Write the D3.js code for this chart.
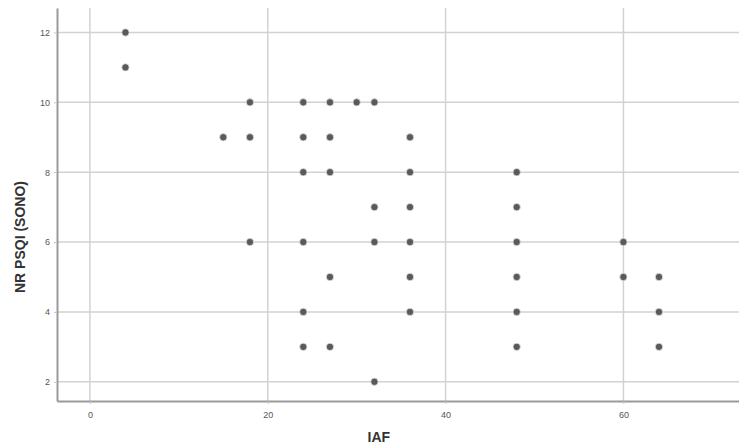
<!DOCTYPE html>
<html>
<head>
<meta charset="utf-8">
<script src="https://cdn.jsdelivr.net/npm/d3@7"></script>
<style>
  body { margin: 0; background: #fff; }
  svg { display: block; font-family: Arial, "Liberation Sans", sans-serif; }
</style>
</head>
<body>
<div id="chart"></div>
<script>
// IAF (x) and NR PSQI (SONO) (y)
const iaf  = [4, 4, 15, 18, 18, 18, 24, 24, 24, 24, 24, 24, 27, 27, 27, 27, 27, 30, 32, 32, 32, 32,
              36, 36, 36, 36, 36, 36, 48, 48, 48, 48, 48, 48, 60, 60, 64, 64, 64];
const psqi = [12, 11, 9, 10, 9, 6, 10, 9, 8, 6, 4, 3, 10, 9, 8, 5, 3, 10, 10, 7, 6, 2,
              9, 8, 7, 6, 5, 4, 8, 7, 6, 5, 4, 3, 6, 5, 5, 4, 3];
const xTicks = [0, 20, 40, 60];
const yTicks = [2, 4, 6, 8, 10, 12];

const width = 739, height = 448;
const margin = { top: 8, right: 0, bottom: 47, left: 57 };

const svg = d3.select("#chart").append("svg")
    .attr("width", width)
    .attr("height", height);

const x = d3.scaleLinear().domain([-3.7, 73]).range([margin.left, width - margin.right]);
const y = d3.scaleLinear().domain([1.45, 12.7]).range([height - margin.bottom, margin.top]);

// grid lines
svg.append("g")
    .selectAll("line")
    .data(yTicks)
    .enter().append("line")
    .attr("x1", margin.left).attr("x2", width - margin.right)
    .attr("y1", d => y(d)).attr("y2", d => y(d))
    .attr("stroke", "#d2d2d2").attr("stroke-width", 1.5);

svg.append("g")
    .selectAll("line")
    .data(xTicks)
    .enter().append("line")
    .attr("x1", d => x(d)).attr("x2", d => x(d))
    .attr("y1", margin.top).attr("y2", height - margin.bottom)
    .attr("stroke", "#d2d2d2").attr("stroke-width", 1.5);

// axes
const xAxis = svg.append("g")
    .attr("transform", `translate(0,${height - margin.bottom})`)
    .call(d3.axisBottom(x).tickValues(xTicks).tickSize(3).tickSizeOuter(0));
const yAxis = svg.append("g")
    .attr("transform", `translate(${margin.left},0)`)
    .call(d3.axisLeft(y).tickValues(yTicks).tickSize(3).tickSizeOuter(0));

[xAxis, yAxis].forEach(g => {
    g.select(".domain").attr("stroke", "#9a9a9a").attr("stroke-width", 2);
    g.selectAll(".tick line").attr("stroke", "#c4c4c4");
    g.selectAll(".tick text").attr("fill", "#555").attr("font-size", "9px");
});
xAxis.selectAll(".tick text").attr("dy", "1.2em");
yAxis.selectAll(".tick text").attr("x", -7);

// axis titles
svg.append("text")
    .attr("x", x(32.5))
    .attr("y", 442)
    .attr("text-anchor", "middle")
    .attr("font-size", "14px")
    .attr("font-weight", "bold")
    .attr("fill", "#333")
    .text("IAF");

svg.append("text")
    .attr("transform", `translate(25,237) rotate(-90)`)
    .attr("text-anchor", "middle")
    .attr("font-size", "14px")
    .attr("font-weight", "bold")
    .attr("fill", "#333")
    .text("NR PSQI (SONO)");

// points
svg.append("g")
    .selectAll("circle")
    .data(iaf.map((v, i) => ({ x: v, y: psqi[i] })))
    .enter().append("circle")
    .attr("cx", d => x(d.x))
    .attr("cy", d => y(d.y))
    .attr("r", 3.7)
    .attr("fill", "#5a5a5a")
    .attr("stroke", "#e6e6e6")
    .attr("stroke-width", 0.8);
</script>
</body>
</html>
